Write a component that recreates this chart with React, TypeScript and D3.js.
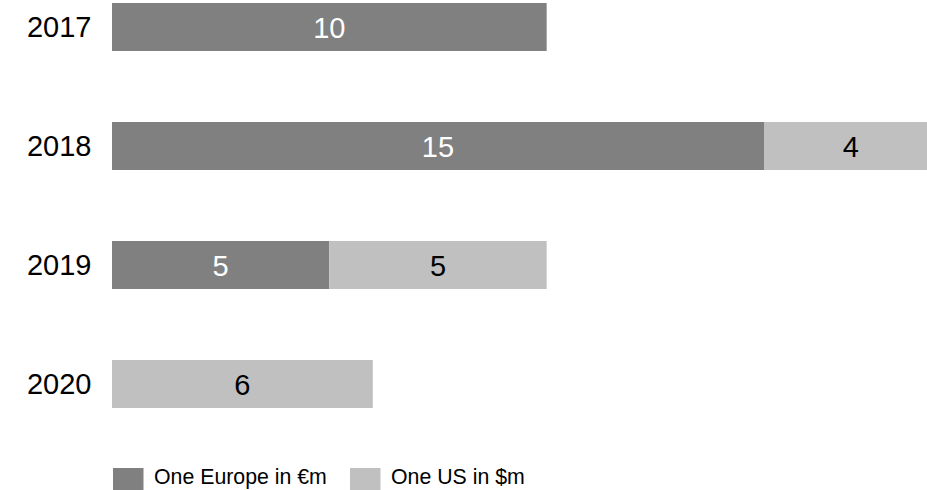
import React from "react";
import * as d3 from "d3";

const years = ["2017", "2018", "2019", "2020"];
const europe = [10, 15, 5, 0];
const us = [0, 4, 5, 6];
const seriesNames = ["One Europe in €m", "One US in $m"];
const seriesColors = ["#808080", "#c0c0c0"];
const labelColors = ["#ffffff", "#000000"];

const W = 927;
const H = 490;

export default function App() {
  const x = d3.scaleLinear().domain([0, 15]).range([112, 764]);
  const y = d3
    .scaleBand<string>()
    .domain(years)
    .range([3, 408])
    .paddingInner(71 / 119)
    .paddingOuter(0);

  const rows = years.map((yr, i) => ({ year: yr, europe: europe[i], us: us[i] }));
  const stack = d3.stack<any>().keys(["europe", "us"])(rows);

  const font = "'Liberation Sans', Arial, sans-serif";
  const bw = y.bandwidth();

  return (
    <svg
      width={W}
      height={H}
      style={{ position: "absolute", left: 0, top: 0, fontFamily: font }}
    >
      {years.map((yr) => (
        <text
          key={"y" + yr}
          x={91.5}
          y={(y(yr) as number) + bw / 2 + 9.6}
          textAnchor="end"
          fontSize={29}
          fill="#000"
        >
          {yr}
        </text>
      ))}
      {stack.map((layer, si) =>
        layer.map((d, i) => {
          const v = d[1] - d[0];
          if (v <= 0) return null;
          const x0 = x(d[0]);
          const x1 = x(d[1]);
          const yy = y(years[i]) as number;
          return (
            <g key={si + "-" + i}>
              <rect x={x0} y={yy} width={x1 - x0} height={bw} fill={seriesColors[si]} />
              <text
                x={(x0 + x1) / 2}
                y={yy + bw / 2 + 10.6}
                textAnchor="middle"
                fontSize={29}
                fill={labelColors[si]}
              >
                {v}
              </text>
            </g>
          );
        })
      )}
      {seriesNames.map((name, i) => {
        const lx = i === 0 ? 113 : 350;
        return (
          <g key={"l" + i}>
            <rect x={lx} y={468} width={30.5} height={31} fill={seriesColors[i]} />
            <text x={lx + 41} y={484.3} fontSize={21.3} fill="#000">
              {name}
            </text>
          </g>
        );
      })}
    </svg>
  );
}
